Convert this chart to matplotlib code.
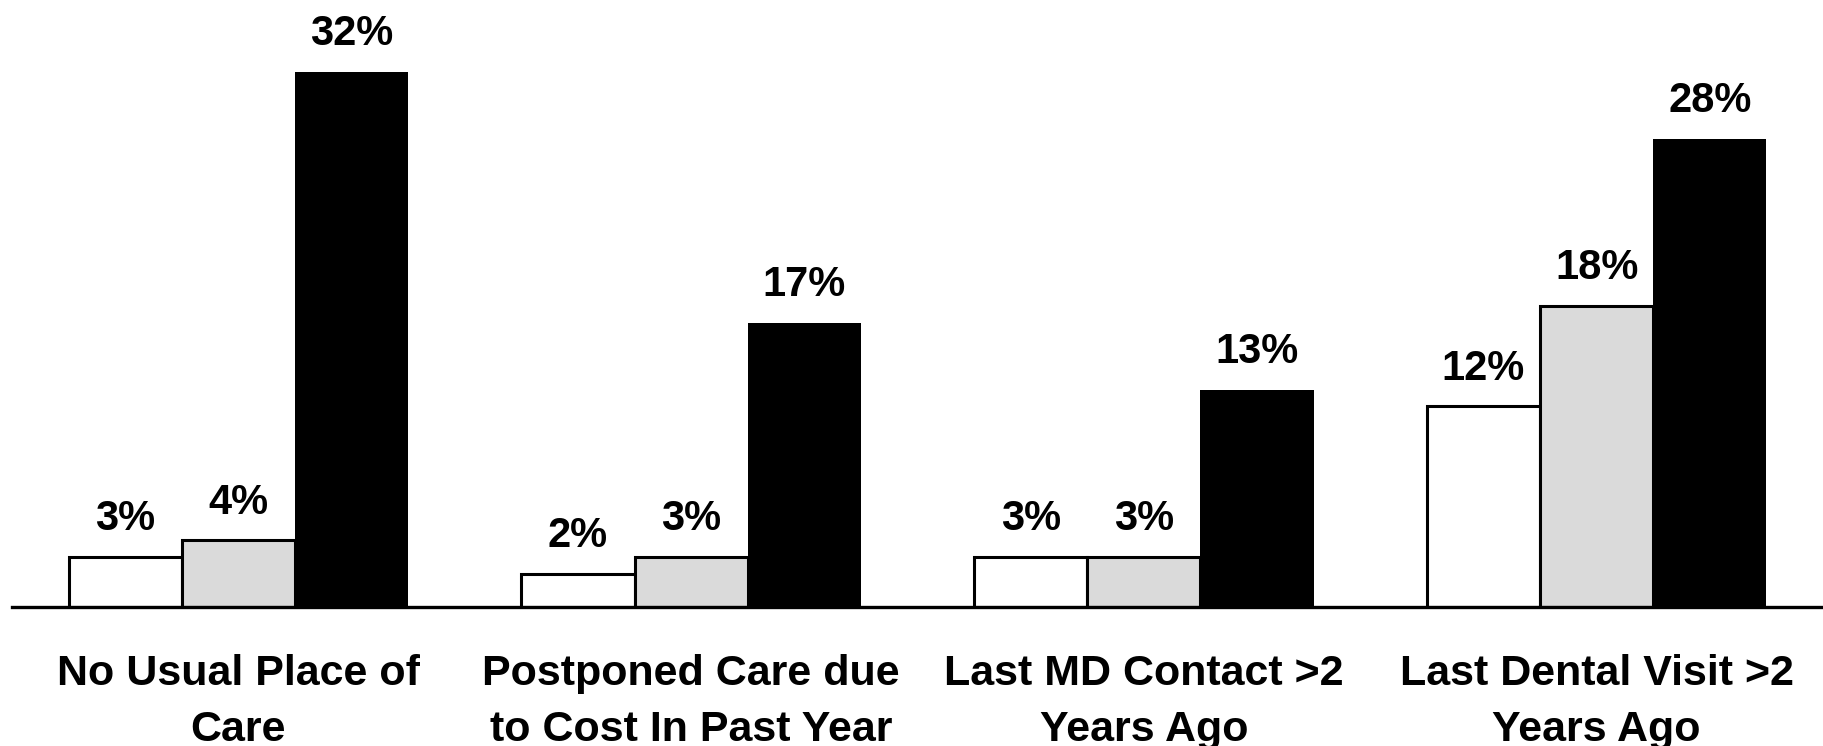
import matplotlib.pyplot as plt
import numpy as np

categories = ['No Usual Place of\nCare',
              'Postponed Care due\nto Cost In Past Year',
              'Last MD Contact >2\nYears Ago',
              'Last Dental Visit >2\nYears Ago']
series_white = [3, 2, 3, 12]
series_gray = [4, 3, 3, 18]
series_black = [32, 17, 13, 28]

plt.rcParams['font.family'] = ['Liberation Sans', 'DejaVu Sans']

fig = plt.figure(figsize=(18.23, 7.46), dpi=100)
ax = fig.add_axes([0.0066, 0.1863, 0.9934, 0.8137])

x = np.arange(len(categories))
width = 0.25

b1 = ax.bar(x - width, series_white, width, color='white', edgecolor='black', linewidth=2.2)
b2 = ax.bar(x, series_gray, width, color='#dadada', edgecolor='black', linewidth=2.2)
b3 = ax.bar(x + width, series_black, width, color='black', edgecolor='black', linewidth=0)

# value labels above each bar
for bars in (b1, b2, b3):
    for rect in bars:
        h = rect.get_height()
        ax.text(rect.get_x() + rect.get_width() / 2, h + 1.05, f"{h}%",
                ha='center', va='bottom', fontsize=30, fontweight='bold')

ax.set_xlim(-0.5, 3.5)
ax.set_ylim(0, 36.3)
ax.set_xticks(x)
ax.set_xticklabels(categories, fontsize=31, fontweight='bold', linespacing=1.52)
ax.tick_params(axis='x', length=0, pad=34)
ax.set_yticks([])
for side in ('top', 'left', 'right'):
    ax.spines[side].set_visible(False)
ax.spines['bottom'].set_linewidth(2.4)

plt.savefig('out.png', dpi=100)
